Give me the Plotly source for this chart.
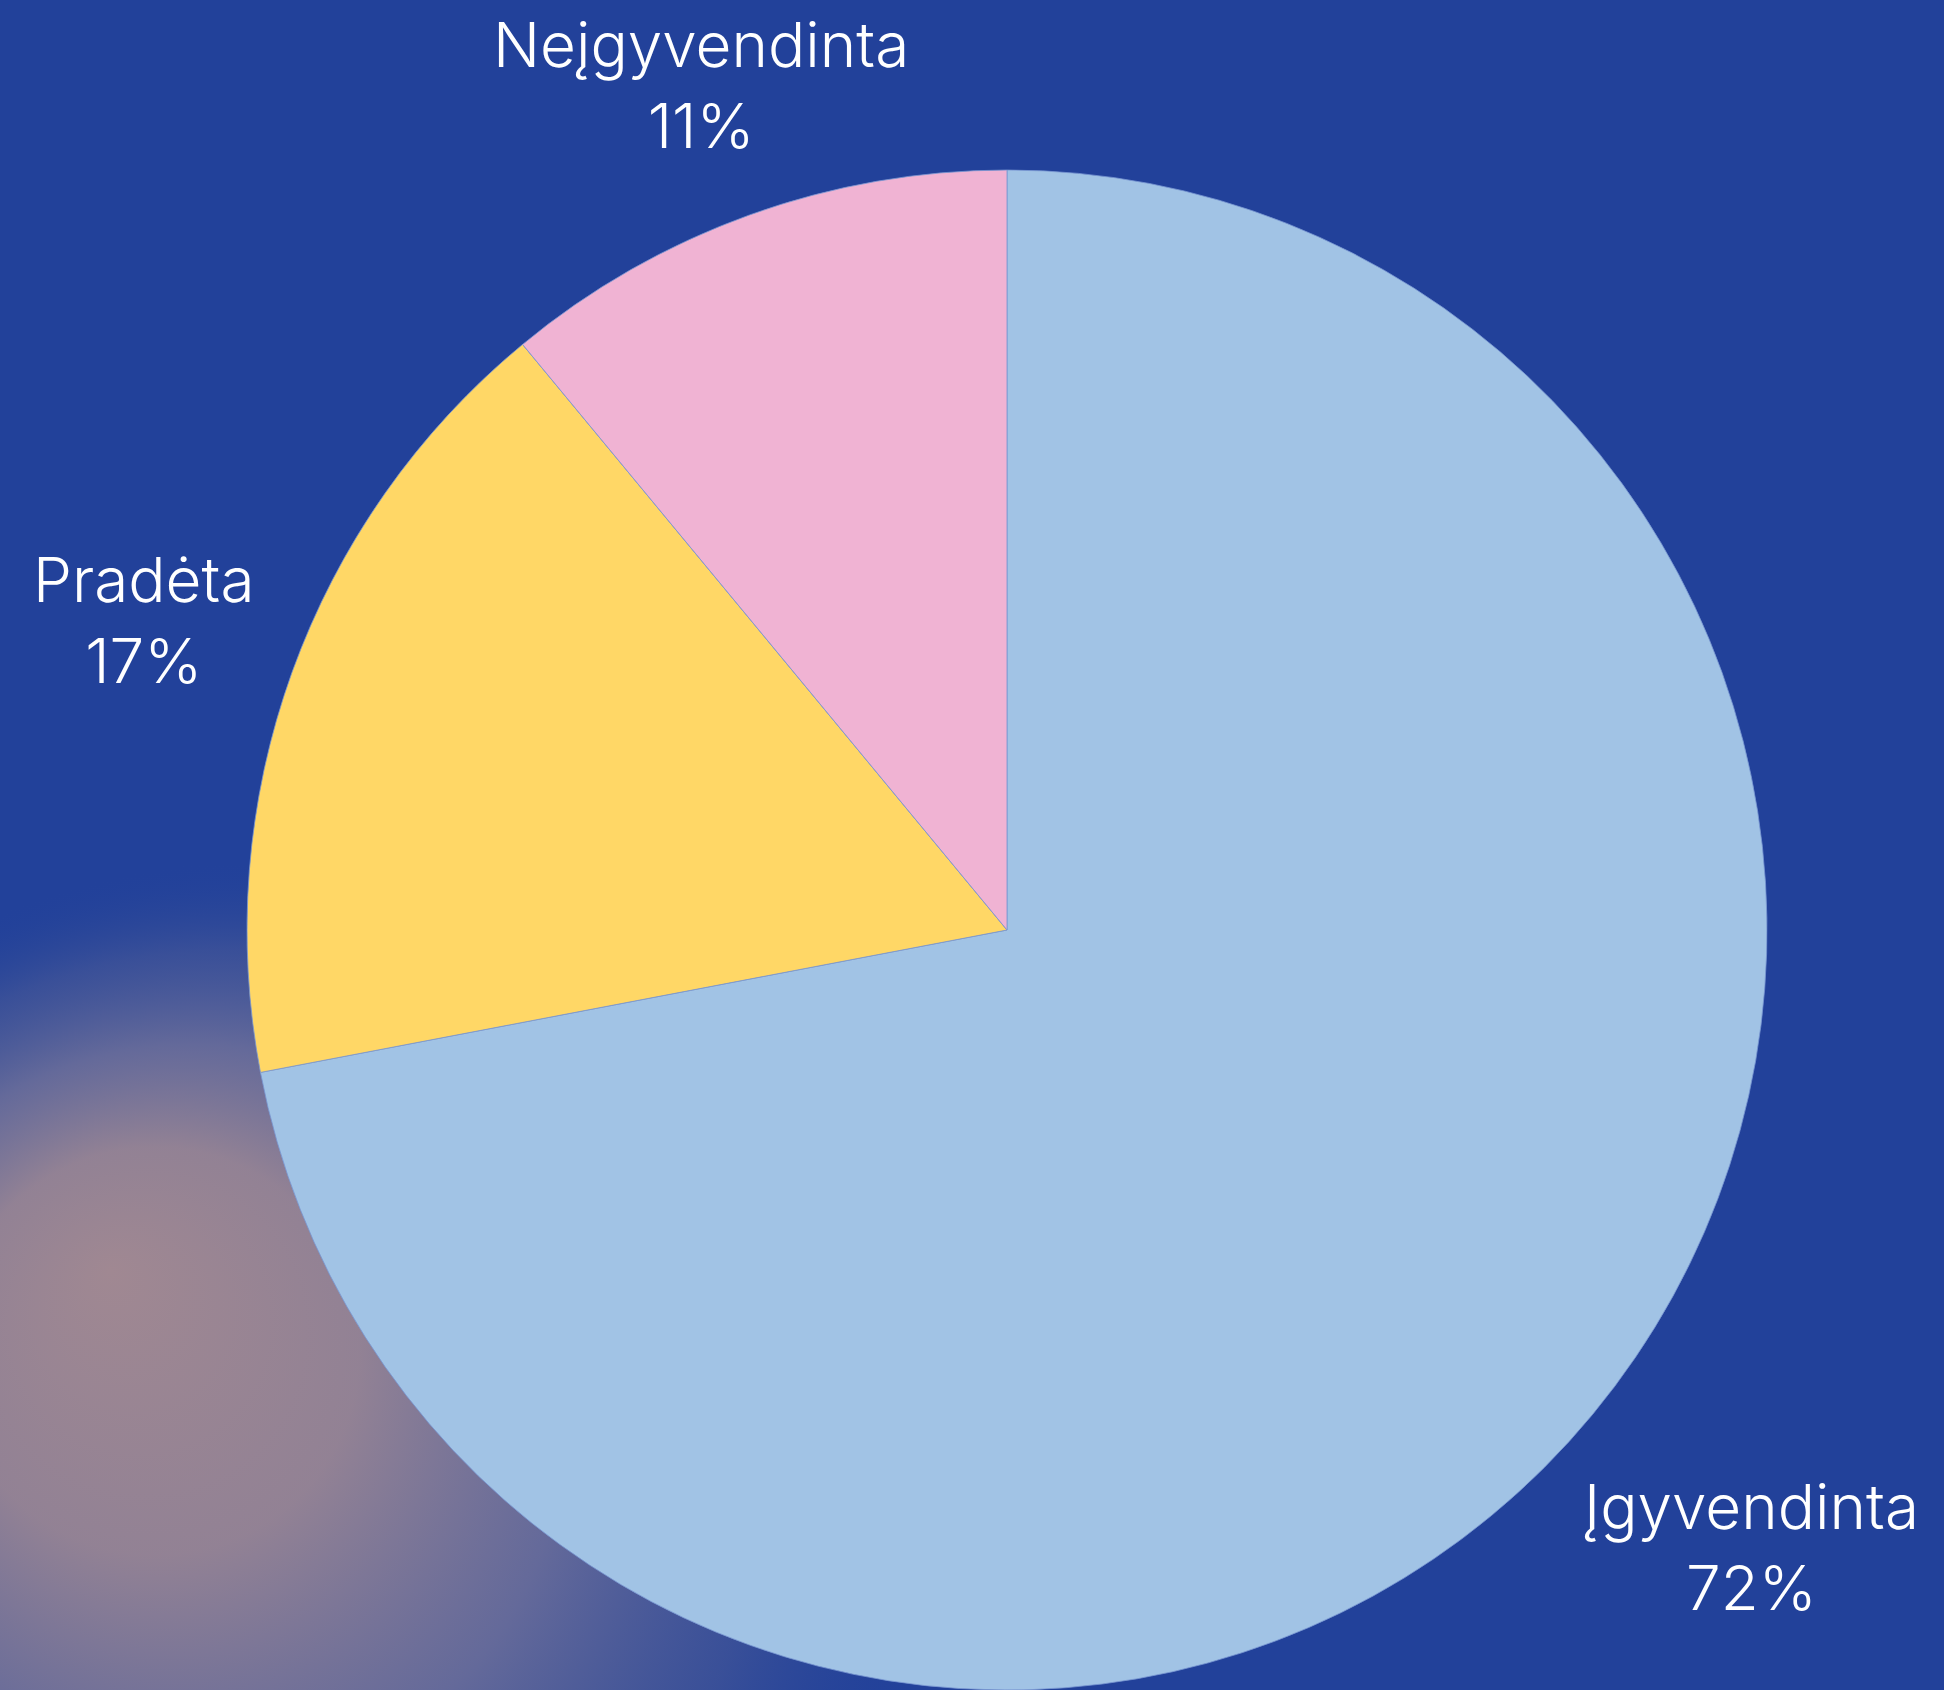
import base64
import plotly.graph_objects as go

# ---- data ----
labels = ["Įgyvendinta", "Pradėta", "Neįgyvendinta"]
values = [72, 17, 11]
colors = ["#A1C3E5", "#FFD766", "#F0B3D3"]

# label annotation placement (paper coords) per category
label_x = [0.901, 0.0736, 0.3606]
label_y = [0.0846, 0.633, 0.9497]

W, H = 1944, 1690
BG = "#22419A"
FONT = "Inter, Open Sans, sans-serif"

# soft background glow (bottom-left)
svg = f"""<svg xmlns='http://www.w3.org/2000/svg' width='{W}' height='{H}' viewBox='0 0 {W} {H}'>
<defs>
<radialGradient id='g' cx='260' cy='1540' r='680' fx='110' fy='1270' gradientUnits='userSpaceOnUse'>
<stop offset='0' stop-color='#A08892' stop-opacity='1'/>
<stop offset='0.3' stop-color='#988594' stop-opacity='0.95'/>
<stop offset='0.55' stop-color='#7A779A' stop-opacity='0.75'/>
<stop offset='0.78' stop-color='#5C6596' stop-opacity='0.4'/>
<stop offset='0.92' stop-color='#3C5296' stop-opacity='0.12'/>
<stop offset='1' stop-color='#22419A' stop-opacity='0'/>
</radialGradient>
</defs>
<rect x='0' y='0' width='{W}' height='{H}' fill='url(#g)'/>
</svg>"""
src = "data:image/svg+xml;base64," + base64.b64encode(svg.encode("utf-8")).decode("ascii")

cx0, cx1 = 247 / W, 1767 / W
fig = go.Figure(
    go.Pie(
        labels=labels,
        values=values,
        sort=False,
        direction="clockwise",
        rotation=0,
        marker=dict(colors=colors, line=dict(color="rgba(120,150,210,0.8)", width=1)),
        textinfo="none",
        hoverinfo="label+percent",
        showlegend=False,
        domain=dict(x=[cx0, cx1], y=[0, 0.8994]),
    )
)

total = sum(values)
for lab, v, x, y in zip(labels, values, label_x, label_y):
    fig.add_annotation(
        x=x, y=y, xref="paper", yref="paper",
        text=f"{lab}<br>{round(100 * v / total)}%",
        showarrow=False,
        xanchor="center", yanchor="middle",
        align="center",
        font=dict(family=FONT, size=62, color="white", weight=300),
    )

fig.update_layout(
    width=W, height=H,
    margin=dict(l=0, r=0, t=0, b=0),
    paper_bgcolor=BG,
    plot_bgcolor=BG,
    images=[dict(source=src, xref="paper", yref="paper", x=0, y=1,
                 sizex=1, sizey=1, xanchor="left", yanchor="top",
                 sizing="stretch", layer="below")],
)

fig.write_html(
    "out.html",
    config={"displayModeBar": False},
    post_script="document.body.style.margin='0';document.body.style.background='#22419A';",
)
